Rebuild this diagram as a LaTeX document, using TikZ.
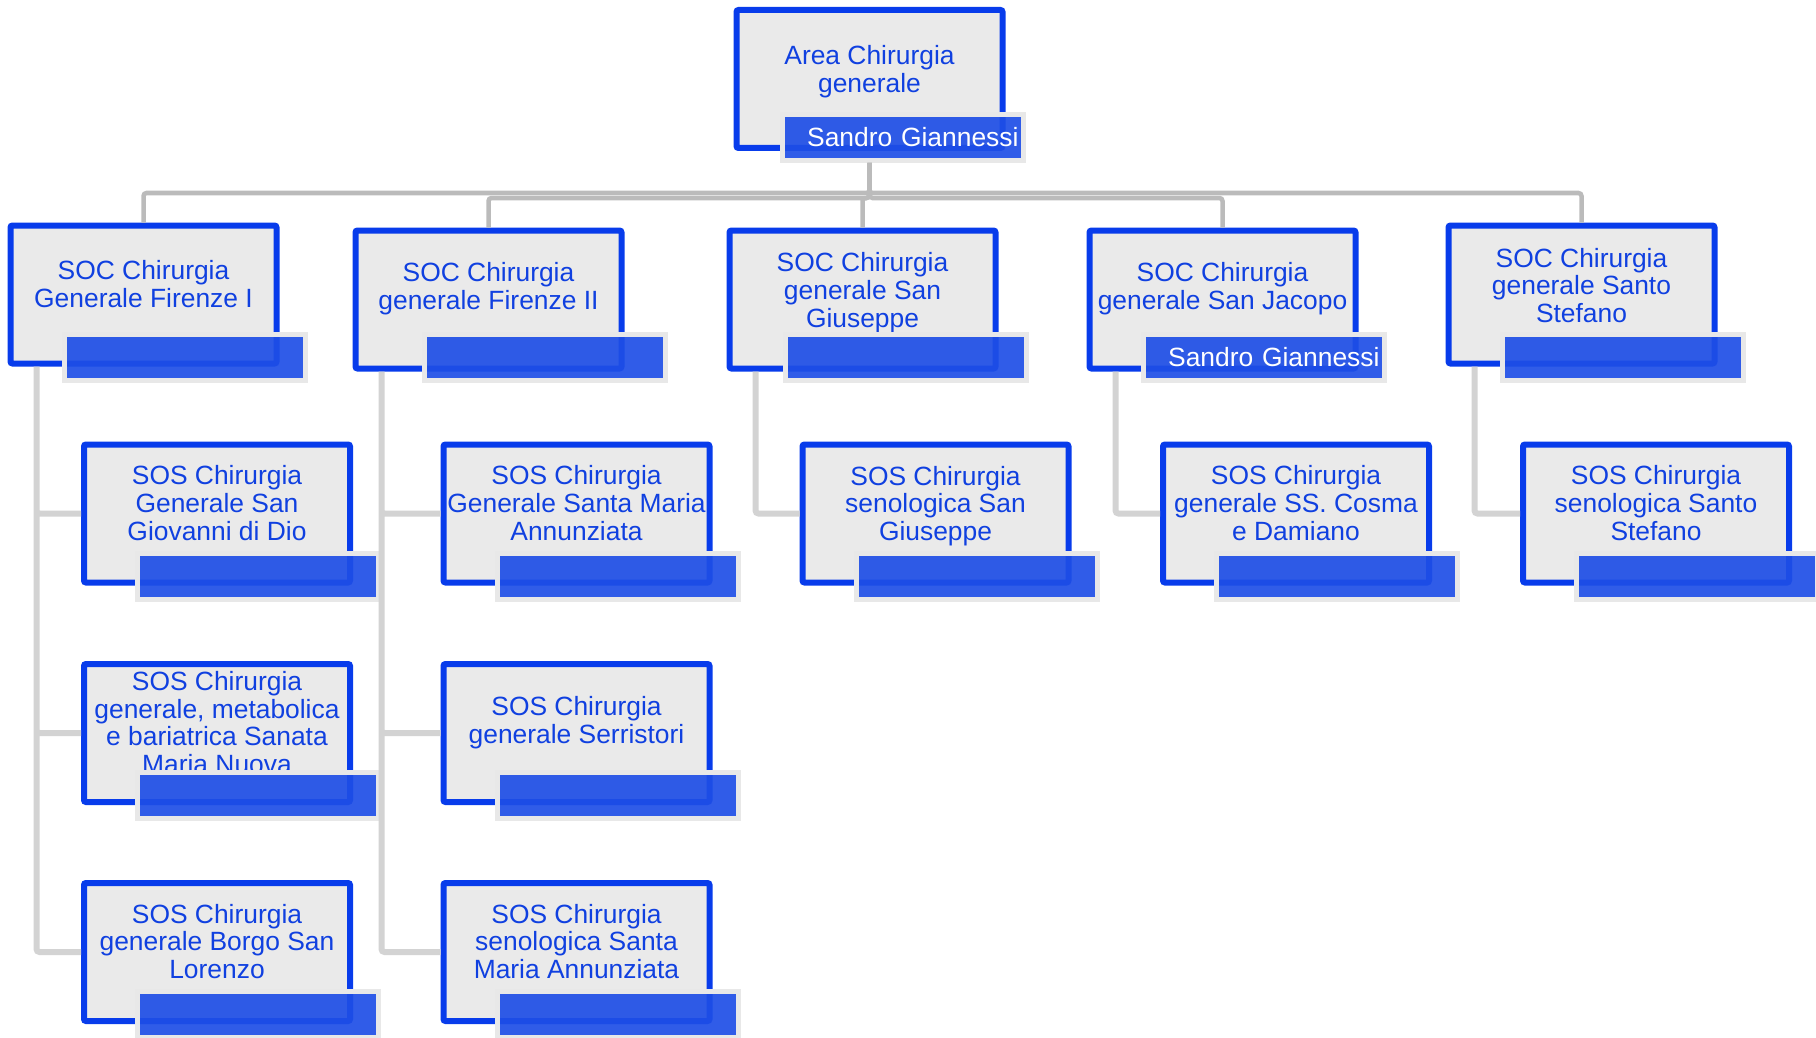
\documentclass[tikz,border=0pt]{standalone}
\usepackage{fontspec}
\setmainfont{Liberation Sans}
\usetikzlibrary{positioning, calc}
\definecolor{boxblue}{RGB}{8,60,235}
\definecolor{boxfill}{RGB}{234,234,234}
\definecolor{textblue}{RGB}{16,64,224}
\definecolor{barblue}{RGB}{30,78,230}
\definecolor{barrim}{RGB}{232,232,232}
\definecolor{topgray}{RGB}{187,187,187}
\definecolor{subgray}{RGB}{211,211,211}
\tikzset{unit box/.style={draw=boxblue, fill=boxfill, line width=3pt, rounded corners=1pt,
    minimum width=133pt, minimum height=69pt, inner sep=0pt}}
\tikzset{unit text/.style={align=center, text=textblue, inner sep=0pt,
    font=\fontsize{13.2pt}{13.9pt}\selectfont}}
\tikzset{name bar/.style={draw=barrim, fill=barblue, fill opacity=0.92, text opacity=1,
    line width=2.5pt, text width=116pt, inner xsep=2.25pt, inner ysep=0pt, minimum height=23pt,
    align=right, text=white, font=\fontsize{13.2pt}{13.9pt}\selectfont, anchor=south east}}
\tikzset{top link/.style={draw=topgray, line width=2.25pt, rounded corners=1.5pt}}
\tikzset{sub link/.style={draw=subgray, line width=3pt, rounded corners=1.5pt}}

\begin{document}
\begin{tikzpicture}[x=0.5pt, y=-0.5pt]
    \useasboundingbox (0,0) rectangle (1816,1038);

    % area
    \node[unit box] (area) at (869.5,79) {};
    \node[unit text] (area-text) at ([yshift=3.5pt]area.center) {Area Chirurgia\\generale};
    \node[name bar] (area-bar) at ([shift={(10pt,-6pt)}]area.south east) {Sandro Giannessi};

    % SOC
    \node[unit box] (firenze1) at (143.5,294.5) {};
    \node[unit text] (firenze1-text) at ([yshift=5.25pt]firenze1.center) {SOC Chirurgia\\Generale Firenze I};
    \node[name bar] (firenze1-bar) at ([shift={(14pt,-8pt)}]firenze1.south east) {};

    \node[unit box] (firenze2) at (488.5,299.5) {};
    \node[unit text] (firenze2-text) at ([yshift=5.25pt]firenze2.center) {SOC Chirurgia\\generale Firenze II};
    \node[name bar] (firenze2-bar) at ([shift={(21.5pt,-5.5pt)}]firenze2.south east) {};

    \node[unit box] (giuseppe) at (862.5,299.5) {};
    \node[unit text] (giuseppe-text) at ([yshift=3.5pt]giuseppe.center) {SOC Chirurgia\\generale San\\Giuseppe};
    \node[name bar] (giuseppe-bar) at ([shift={(15pt,-5.5pt)}]giuseppe.south east) {};

    \node[unit box] (jacopo) at (1222.5,299.5) {};
    \node[unit text] (jacopo-text) at ([yshift=5.25pt]jacopo.center) {SOC Chirurgia\\generale San Jacopo};
    \node[name bar] (jacopo-bar) at ([shift={(14pt,-5.5pt)}]jacopo.south east) {Sandro Giannessi};

    \node[unit box] (stefano) at (1581.5,294.5) {};
    \node[unit text] (stefano-text) at ([yshift=4.5pt]stefano.center) {SOC Chirurgia\\generale Santo\\Stefano};
    \node[name bar] (stefano-bar) at ([shift={(14pt,-8pt)}]stefano.south east) {};

    % SOS
    \node[unit box] (giovanni) at (217,513.5) {};
    \node[unit text] (giovanni-text) at ([yshift=5.25pt]giovanni.center) {SOS Chirurgia\\Generale San\\Giovanni di Dio};
    \node[name bar] (giovanni-bar) at ([shift={(14pt,-8pt)}]giovanni.south east) {};

    \node[unit box, below=37.75pt of giovanni] (nuova) {};
    \node[unit text] (nuova-text) at ([yshift=5.25pt]nuova.center) {SOS Chirurgia\\generale, metabolica\\e bariatrica Sanata\\Maria Nuova};
    \node[name bar] (nuova-bar) at ([shift={(14pt,-8pt)}]nuova.south east) {};

    \node[unit box, below=37.5pt of nuova] (borgo) {};
    \node[unit text] (borgo-text) at ([yshift=5.25pt]borgo.center) {SOS Chirurgia\\generale Borgo San\\Lorenzo};
    \node[name bar] (borgo-bar) at ([shift={(14pt,-8pt)}]borgo.south east) {};

    \node[unit box] (annunziata) at (576.5,513.5) {};
    \node[unit text] (annunziata-text) at ([yshift=5.25pt]annunziata.center) {SOS Chirurgia\\Generale Santa Maria\\Annunziata};
    \node[name bar] (annunziata-bar) at ([shift={(14pt,-8pt)}]annunziata.south east) {};

    \node[unit box, below=37.75pt of annunziata] (serristori) {};
    \node[unit text] (serristori-text) at ([yshift=5.25pt]serristori.center) {SOS Chirurgia\\generale Serristori};
    \node[name bar] (serristori-bar) at ([shift={(14pt,-8pt)}]serristori.south east) {};

    \node[unit box, below=37.5pt of serristori] (seno-annunziata) {};
    \node[unit text] (seno-annunziata-text) at ([yshift=5.25pt]seno-annunziata.center) {SOS Chirurgia\\senologica Santa\\Maria Annunziata};
    \node[name bar] (seno-annunziata-bar) at ([shift={(14pt,-8pt)}]seno-annunziata.south east) {};

    \node[unit box] (seno-giuseppe) at (935.5,513.5) {};
    \node[unit text] (seno-giuseppe-text) at ([yshift=3.75pt]seno-giuseppe.center) {SOS Chirurgia\\senologica San\\Giuseppe};
    \node[name bar] (seno-giuseppe-bar) at ([shift={(14pt,-8pt)}]seno-giuseppe.south east) {};

    \node[unit box] (cosma) at (1296,513.5) {};
    \node[unit text] (cosma-text) at ([yshift=5.25pt]cosma.center) {SOS Chirurgia\\generale SS. Cosma\\e Damiano};
    \node[name bar] (cosma-bar) at ([shift={(14pt,-8pt)}]cosma.south east) {};

    \node[unit box] (seno-stefano) at (1656,513.5) {};
    \node[unit text] (seno-stefano-text) at ([yshift=5.25pt]seno-stefano.center) {SOS Chirurgia\\senologica Santo\\Stefano};
    \node[name bar] (seno-stefano-bar) at ([shift={(14pt,-8pt)}]seno-stefano.south east) {};

    % links
    \draw[top link] (area-bar.south -| area.south) -- ++(0,30) -| (firenze1.north);
    \draw[top link] (area-bar.south -| area.south) -- ++(0,30) -| (stefano.north);
    \draw[top link] (area-bar.south -| area.south) -- ++(0,35) -| (firenze2.north);
    \draw[top link] (area-bar.south -| area.south) -- ++(0,35) -| (giuseppe.north);
    \draw[top link] (area-bar.south -| area.south) -- ++(0,35) -| (jacopo.north);

    \draw[sub link] ([xshift=14.5pt]firenze1.south west) |- (giovanni.west)
        ([xshift=14.5pt]firenze1.south west) |- (nuova.west)
        ([xshift=14.5pt]firenze1.south west) |- (borgo.west);
    \draw[sub link] ([xshift=14.5pt]firenze2.south west) |- (annunziata.west)
        ([xshift=14.5pt]firenze2.south west) |- (serristori.west)
        ([xshift=14.5pt]firenze2.south west) |- (seno-annunziata.west);
    \draw[sub link] ([xshift=14.5pt]giuseppe.south west) |- (seno-giuseppe.west);
    \draw[sub link] ([xshift=14.5pt]jacopo.south west) |- (cosma.west);
    \draw[sub link] ([xshift=14.5pt]stefano.south west) |- (seno-stefano.west);
\end{tikzpicture}
\end{document}
